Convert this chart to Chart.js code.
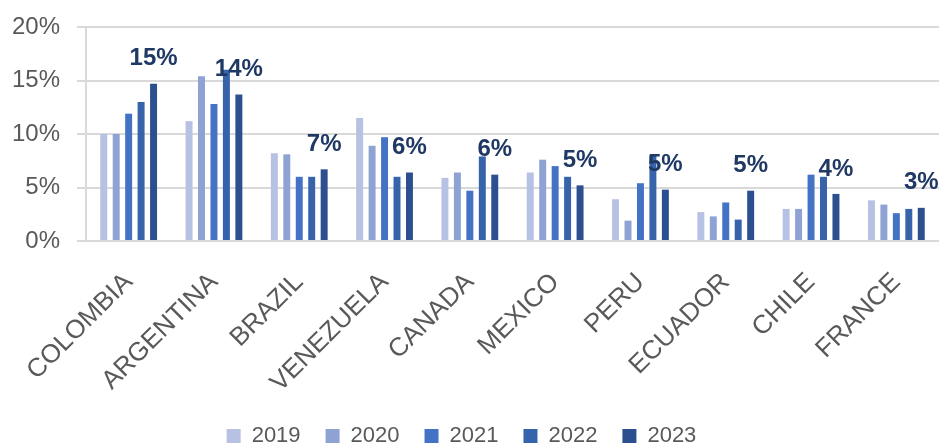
<!DOCTYPE html>
<html>
<head>
<meta charset="utf-8">
<script src="https://cdn.jsdelivr.net/npm/chart.js@4/dist/chart.umd.min.js"></script>
<style>
  html, body { margin: 0; padding: 0; background: #fff; }
  #wrap { width: 940px; height: 444px; }
</style>
</head>
<body>
<div id="wrap"><canvas id="shareChart"></canvas></div>
<script>
const countries = ['COLOMBIA', 'ARGENTINA', 'BRAZIL', 'VENEZUELA', 'CANADA', 'MEXICO', 'PERU', 'ECUADOR', 'CHILE', 'FRANCE'];
const years = ['2019', '2020', '2021', '2022', '2023'];

const share2019 = [10.0, 11.2, 8.2, 11.5, 5.9, 6.4, 3.9, 2.7, 3.0, 3.8];
const share2020 = [10.0, 15.4, 8.1, 8.9, 6.4, 7.6, 1.9, 2.3, 3.0, 3.4];
const share2021 = [11.9, 12.8, 6.0, 9.7, 4.7, 7.0, 5.4, 3.6, 6.2, 2.6];
const share2022 = [13.0, 16.0, 6.0, 6.0, 7.9, 6.0, 8.0, 2.0, 6.0, 3.0];
const share2023 = [14.7, 13.7, 6.7, 6.4, 6.2, 5.2, 4.8, 4.7, 4.4, 3.1];

const yTicks = [0, 5, 10, 15, 20];

const seriesValues = [share2019, share2020, share2021, share2022, share2023];
const seriesColors = ['#b6c1e3', '#8ea2d4', '#4472c4', '#3763ab', '#2c4f8f'];

document.addEventListener("DOMContentLoaded", function () {
    const ctx = document.getElementById("shareChart").getContext("2d");
    const fontFamily = "'Liberation Sans', Arial, sans-serif";

    // value labels above the 2023 bars
    const topLabels = {
        id: 'topLabels',
        afterLayout(chart) {
            // legend sits a bit left of centre in the original
            chart.legend.left -= 14;
            chart.legend.right -= 14;
        },
        afterDatasetsDraw(chart) {
            const last = chart.data.datasets.length - 1;
            const meta = chart.getDatasetMeta(last);
            const c = chart.ctx;
            c.save();
            c.font = "bold 24px " + fontFamily;
            c.fillStyle = '#1f3864';
            c.textAlign = 'center';
            c.textBaseline = 'middle';
            meta.data.forEach((bar, i) => {
                const v = chart.data.datasets[last].data[i];
                c.fillText(Math.round(v) + '%', bar.x, bar.y - 25);
            });
            c.restore();
        }
    };

    const datasets = years.map((yr, i) => ({
        label: yr,
        data: seriesValues[i],
        backgroundColor: seriesColors[i],
        categoryPercentage: 0.73,
        barPercentage: 0.56
    }));

    new Chart(ctx, {
        type: 'bar',
        data: { labels: countries, datasets: datasets },
        options: {
            responsive: true,
            maintainAspectRatio: false,
            animation: false,
            layout: { padding: { left: 12, right: 1, top: 27, bottom: -13 } },
            plugins: {
                legend: {
                    position: 'bottom',
                    labels: {
                        boxWidth: 14,
                        boxHeight: 14,
                        padding: 25,
                        color: '#595959',
                        font: { family: fontFamily, size: 22 }
                    }
                },
                tooltip: { enabled: false }
            },
            scales: {
                x: {
                    grid: { display: false },
                    border: { display: false },
                    ticks: {
                        color: '#595959',
                        font: { family: fontFamily, size: 26 },
                        minRotation: 45,
                        maxRotation: 45,
                        padding: 18
                    },
                    afterFit: (axis) => {
                        axis.height = 159;
                        axis.paddingLeft = 0;
                        axis.paddingRight = 0;
                    }
                },
                y: {
                    min: 0,
                    max: 20,
                    afterBuildTicks: (axis) => { axis.ticks = yTicks.map(v => ({ value: v })); },
                    grid: { color: '#d9d9d9', lineWidth: 2, tickLength: 9, drawTicks: true },
                    border: { display: true, color: '#d9d9d9', width: 2 },
                    ticks: {
                        color: '#595959',
                        font: { family: fontFamily, size: 24 },
                        padding: 17,
                        callback: (v) => v + '%'
                    },
                    afterFit: (axis) => {
                        axis.width = 74;
                        axis.paddingTop = 0;
                        axis.paddingBottom = 0;
                    }
                }
            }
        },
        plugins: [topLabels]
    });
});
</script>
</body>
</html>
